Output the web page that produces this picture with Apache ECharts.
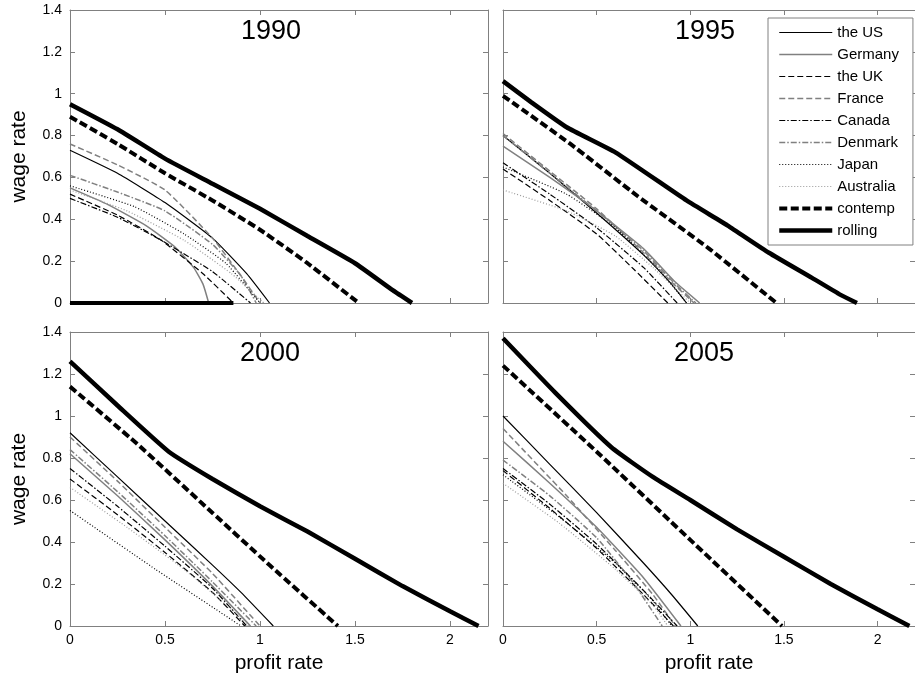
<!DOCTYPE html>
<html>
<head>
<meta charset="utf-8">
<script src="https://cdn.jsdelivr.net/npm/echarts@6/dist/echarts.min.js"></script>
<style>
  html, body { margin: 0; padding: 0; background: #fff; }
  #chart { width: 915px; height: 679px; }
</style>
</head>
<body>
<div id="chart"></div>
<script>
// panel titles
const years = ["1990", "1995", "2000", "2005"];
const xTicks = [0, 0.5, 1, 1.5, 2];
const yTicks = [0, 0.2, 0.4, 0.6, 0.8, 1, 1.2, 1.4];

// [profit rate, wage rate] points, one list per panel (1990, 1995, 2000, 2005)
const theUS = [
  [[0,0.73],[0.25,0.62],[0.5,0.48],[0.75,0.31],[0.93,0.14],[1.05,0]],
  [[0,0.80],[0.25,0.62],[0.5,0.43],[0.75,0.23],[0.9,0.09],[0.98,0]],
  [[0,0.92],[0.25,0.71],[0.5,0.50],[0.75,0.29],[0.9,0.16],[1.07,0]],
  [[0,1.00],[0.25,0.77],[0.5,0.54],[0.75,0.30],[0.9,0.15],[1.04,0]]
];
const germany = [
  [[0,0.55],[0.2,0.47],[0.4,0.37],[0.55,0.27],[0.65,0.17],[0.7,0.09],[0.73,0]],
  [[0,0.75],[0.25,0.60],[0.5,0.44],[0.75,0.26],[0.92,0.10],[1.05,0]],
  [[0,0.82],[0.25,0.62],[0.5,0.41],[0.75,0.19],[0.95,0]],
  [[0,0.88],[0.25,0.68],[0.5,0.47],[0.75,0.23],[0.95,0]]
];
const theUK = [
  [[0,0.52],[0.25,0.42],[0.48,0.30],[0.7,0.14],[0.86,0]],
  [[0,0.64],[0.25,0.49],[0.5,0.33],[0.7,0.16],[0.88,0]],
  [[0,0.70],[0.25,0.53],[0.5,0.35],[0.75,0.16],[0.92,0]],
  [[0,0.74],[0.25,0.56],[0.5,0.37],[0.75,0.15],[0.91,0]]
];
const france = [
  [[0,0.76],[0.25,0.66],[0.5,0.54],[0.75,0.31],[0.9,0.13],[1.0,0]],
  [[0,0.81],[0.25,0.63],[0.5,0.45],[0.75,0.24],[0.9,0.10],[1.02,0]],
  [[0,0.90],[0.25,0.69],[0.5,0.47],[0.75,0.25],[1.0,0]],
  [[0,0.94],[0.34,0.62],[0.6,0.36],[0.8,0.15],[0.92,0]]
];
const canada = [
  [[0,0.50],[0.25,0.41],[0.48,0.30],[0.75,0.15],[0.95,0]],
  [[0,0.67],[0.25,0.52],[0.5,0.36],[0.75,0.17],[0.93,0]],
  [[0,0.75],[0.25,0.57],[0.5,0.38],[0.75,0.18],[0.93,0]],
  [[0,0.75],[0.25,0.58],[0.5,0.39],[0.75,0.17],[0.93,0]]
];
const denmark = [
  [[0,0.61],[0.25,0.53],[0.5,0.44],[0.75,0.28],[0.9,0.13],[0.98,0]],
  [[0,0.80],[0.25,0.62],[0.5,0.44],[0.75,0.25],[0.92,0.09],[1.03,0]],
  [[0,0.84],[0.25,0.64],[0.5,0.43],[0.75,0.21],[0.98,0]],
  [[0,0.79],[0.25,0.62],[0.5,0.42],[0.7,0.20],[0.85,0]]
];
const japan = [
  [[0,0.56],[0.34,0.46],[0.6,0.33],[0.82,0.19],[1.0,0]],
  [[0,0.65],[0.34,0.52],[0.6,0.36],[0.83,0.16],[0.98,0]],
  [[0,0.55],[0.45,0.27],[0.9,0]],
  [[0,0.72],[0.3,0.52],[0.6,0.30],[0.8,0.12],[0.9,0]]
];
const australia = [
  [[0,0.54],[0.3,0.44],[0.6,0.30],[0.85,0.14],[1.02,0]],
  [[0,0.54],[0.34,0.44],[0.6,0.32],[0.8,0.17],[1.0,0]],
  [[0,0.66],[0.3,0.47],[0.6,0.27],[0.9,0.04],[0.94,0]],
  [[0,0.68],[0.3,0.49],[0.6,0.27],[0.8,0.10],[0.88,0]]
];
const contemp = [
  [[0,0.89],[0.25,0.76],[0.5,0.62],[0.75,0.49],[1.0,0.35],[1.25,0.19],[1.52,0]],
  [[0,0.99],[0.36,0.76],[0.72,0.51],[1.1,0.26],[1.46,0]],
  [[0,1.14],[0.35,0.87],[0.7,0.58],[1.05,0.29],[1.41,0]],
  [[0,1.24],[0.5,0.83],[1.0,0.41],[1.49,0]]
];
const rolling = [
  [[0,0.95],[0.25,0.83],[0.5,0.69],[0.75,0.57],[1.0,0.45],[1.25,0.32],[1.5,0.19],[1.7,0.06],[1.8,0]],
  [[0,1.06],[0.15,0.96],[0.34,0.84],[0.6,0.72],[0.98,0.49],[1.2,0.37],[1.42,0.24],[1.65,0.12],[1.8,0.04],[1.89,0]],
  [[0,1.26],[0.25,1.05],[0.52,0.83],[0.75,0.70],[1.0,0.57],[1.25,0.45],[1.5,0.32],[1.75,0.19],[2.0,0.07],[2.15,0]],
  [[0,1.37],[0.28,1.11],[0.58,0.85],[0.8,0.71],[1.0,0.60],[1.25,0.46],[1.5,0.33],[1.75,0.20],[2.0,0.08],[2.17,0]]
];
// zero segment lying on the x axis in the 1990 panel
const zeroLine1990 = [[0,0],[0.86,0]];

const FONT = "Arial, 'Liberation Sans', sans-serif";
const GRAY = "#808080";

const lines = [
  { name: "the US",    data: theUS,     color: "#000", width: 1.2, type: "solid" },
  { name: "Germany",   data: germany,   color: GRAY,   width: 1.5, type: "solid" },
  { name: "the UK",    data: theUK,     color: "#000", width: 1.2, type: [6, 3] },
  { name: "France",    data: france,    color: GRAY,   width: 1.5, type: [6, 3] },
  { name: "Canada",    data: canada,    color: "#000", width: 1.2, type: [6, 2, 1.5, 2] },
  { name: "Denmark",   data: denmark,   color: GRAY,   width: 1.5, type: [6, 2, 1.5, 2] },
  { name: "Japan",     data: japan,     color: "#000", width: 1.2, type: [1, 2] },
  { name: "Australia", data: australia, color: "#999", width: 1.2, type: [1, 2] },
  { name: "contemp",   data: contemp,   color: "#000", width: 4,   type: [8, 3.5] },
  { name: "rolling",   data: rolling,   color: "#000", width: 4.5, type: "solid" }
];

const grids = [
  { left: 70,  top: 10,  width: 418, height: 293 },
  { left: 503, top: 10,  width: 418, height: 293 },
  { left: 70,  top: 332, width: 418, height: 294 },
  { left: 503, top: 332, width: 418, height: 294 }
];
const titlePos = [[271, 32], [705, 32], [270, 354], [704, 354]];

const xAxes = [], yAxes = [], series = [], graphics = [];
grids.forEach((g, i) => {
  const bottomRow = i >= 2, leftCol = i % 2 === 0;
  const base = {
    gridIndex: i, type: "value", min: 0, interval: 0.5, max: 2.2,
    axisLine: { show: true, onZero: false, lineStyle: { color: GRAY, width: 1 } },
    axisTick: { show: true, inside: true, length: 5, lineStyle: { color: GRAY } },
    splitLine: { show: false }
  };
  xAxes.push(Object.assign({}, base, {
    position: "bottom",
    axisLabel: { show: bottomRow, showMaxLabel: false, color: "#000", fontSize: 14, fontFamily: FONT, margin: 7,
      formatter: v => xTicks.includes(v) ? String(v) : "" },
    name: bottomRow ? "profit rate" : "", nameLocation: "middle", nameGap: 27,
    nameTextStyle: { fontSize: 21, color: "#000", fontFamily: FONT }
  }));
  xAxes.push(Object.assign({}, base, { position: "top", axisLabel: { show: false } }));
  const ybase = {
    gridIndex: i, type: "value", min: 0, max: 1.4, interval: 0.2,
    axisLine: { show: true, onZero: false, lineStyle: { color: GRAY, width: 1 } },
    axisTick: { show: true, inside: true, length: 5, lineStyle: { color: GRAY } },
    splitLine: { show: false }
  };
  yAxes.push(Object.assign({}, ybase, {
    position: "left",
    axisLabel: { show: leftCol, color: "#000", fontSize: 14, fontFamily: FONT, margin: 8,
      formatter: v => yTicks.includes(Math.round(v * 10) / 10) ? String(Math.round(v * 10) / 10) : "" },
    name: leftCol ? "wage rate" : "", nameLocation: "middle", nameGap: 40,
    nameTextStyle: { fontSize: 21, color: "#000", fontFamily: FONT }
  }));
  yAxes.push(Object.assign({}, ybase, { position: "right", axisLabel: { show: false } }));

  lines.forEach(l => {
    series.push({
      name: l.name, type: "line", xAxisIndex: 2 * i, yAxisIndex: 2 * i,
      data: l.data[i], showSymbol: false, symbol: "none", smooth: 0.15,
      lineStyle: { color: l.color, width: l.width, type: l.type, cap: "butt" },
      itemStyle: { color: l.color }, silent: true, animation: false
    });
  });

  graphics.push({
    type: "text", x: titlePos[i][0], y: titlePos[i][1], z: 100,
    style: { text: years[i], fill: "#000", font: "27px " + FONT, textAlign: "center", textVerticalAlign: "middle" }
  });
});

series.push({
  name: "zero", type: "line", xAxisIndex: 0, yAxisIndex: 0, data: zeroLine1990,
  symbol: "none", lineStyle: { color: "#000", width: 4 }, silent: true, animation: false
});

const chart = echarts.init(document.getElementById("chart"));
chart.setOption({
  animation: false,
  backgroundColor: "#fff",
  grid: grids,
  xAxis: xAxes,
  yAxis: yAxes,
  series: series,
  graphic: graphics,
  legend: {
    data: lines.map(l => l.name),
    orient: "vertical", left: 768, top: 18,
    itemWidth: 53, itemHeight: 14, itemGap: 7,
    padding: [7, 14, 7, 9],
    backgroundColor: "#fff", borderColor: GRAY, borderWidth: 1, borderRadius: 0,
    textStyle: { fontSize: 15, color: "#000", fontFamily: FONT },
    lineStyle: { width: "inherit", type: "inherit" },
    itemStyle: { opacity: 0 },
    selectedMode: false, z: 50
  }
});
</script>
</body>
</html>
